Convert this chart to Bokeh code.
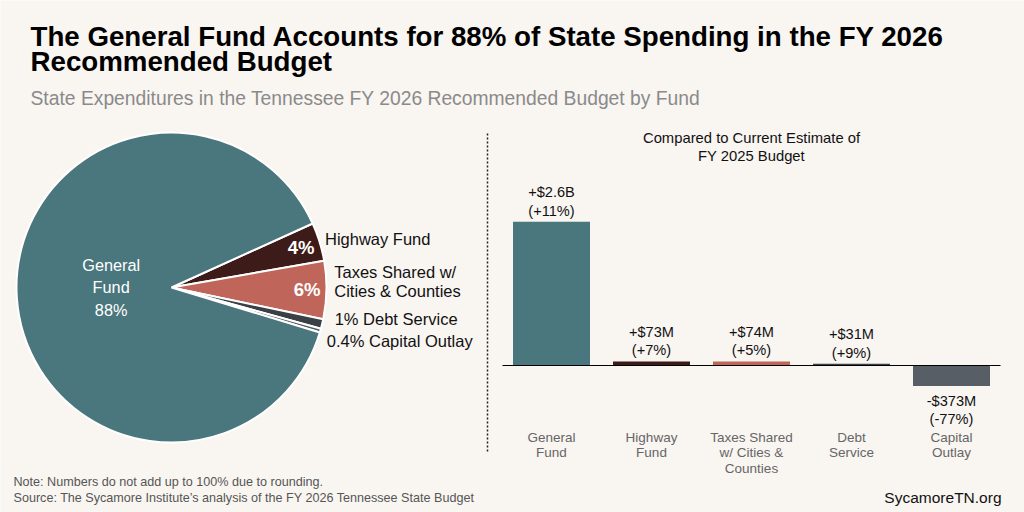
import numpy as np
from bokeh.plotting import figure
from bokeh.models import Range1d, ColumnDataSource
from bokeh.embed import file_html
from bokeh.resources import INLINE
from bokeh.core.properties import value

# ---------------- data ----------------
pie_funds = ["Highway Fund", "Taxes Shared w/ Cities & Counties", "Debt Service",
             "Capital Outlay", "General Fund"]
pie_shares = [4, 6, 1, 0.4, 88]
pie_colors = ["#3d1b19", "#c0655a", "#3a4046", "#575e65", "#4a767d"]
pie_outside_labels = ["Highway Fund", "Taxes Shared w/\nCities & Counties",
                      "1% Debt Service", "0.4% Capital Outlay"]

bar_funds = ["General Fund", "Highway Fund", "Taxes Shared w/ Cities & Counties",
             "Debt Service", "Capital Outlay"]
bar_tick_labels = ["General\nFund", "Highway\nFund", "Taxes Shared\nw/ Cities &\nCounties",
                   "Debt\nService", "Capital\nOutlay"]
bar_change_m = [2600, 73, 74, 31, -373]
bar_change_pct = [11, 7, 5, 9, -77]
bar_change_text = ["+$2.6B", "+$73M", "+$74M", "+$31M", "-$373M"]
bar_colors = ["#4a767d", "#3d1b19", "#c0655a", "#3a4046", "#575e65"]

title_lines = ["The General Fund Accounts for 88% of State Spending in the FY 2026",
               "Recommended Budget"]
subtitle = "State Expenditures in the Tennessee FY 2026 Recommended Budget by Fund"
bar_title = "Compared to Current Estimate of\nFY 2025 Budget"
note_lines = ["Note: Numbers do not add up to 100% due to rounding.",
              "Source: The Sycamore Institute\u2019s analysis of the FY 2026 Tennessee State Budget"]
brand = "SycamoreTN.org"

# ---------------- style / canvas ----------------
BG = "#f9f5f1"
FONT = value("Liberation Sans")
W, H = 1024, 512


def Y(py):
    """convert a top-down pixel row into the canvas' bottom-up coordinate"""
    return H - py


p = figure(width=W, height=H, x_range=Range1d(0, W), y_range=Range1d(0, H), title=None,
           x_axis_location=None, y_axis_location=None, toolbar_location=None,
           output_backend="svg", min_border=0, background_fill_color=BG,
           border_fill_color=BG, outline_line_color=None)
p.grid.visible = False

# ---------------- header ----------------
p.text(x=[30, 30], y=[Y(36), Y(60.5)], text=title_lines, text_font=FONT,
       text_font_size="27.7px", text_font_style="bold", text_color="#000000",
       text_baseline="alphabetic", text_align="left")
p.text(x=[30], y=[Y(97.8)], text=[subtitle], text_font=FONT, text_font_size="19.3px",
       text_color="#8a8a8a", text_baseline="alphabetic", text_align="left")

# ---------------- pie ----------------
R = 155
cx, cy = 171, Y(287)
shares = np.array(pie_shares, dtype=float)
spans = shares / shares.sum() * 2 * np.pi
ends = np.radians(24.4) - np.concatenate([[0.0], np.cumsum(spans)[:-1]])
starts = ends - spans
mids = (starts + ends) / 2
pie_src = ColumnDataSource(dict(fund=pie_funds, start=starts, end=ends, color=pie_colors))
p.wedge(x=cx, y=cy, radius=R, start_angle="start", end_angle="end",
        fill_color="color", line_color="white", line_width=2, source=pie_src)

# inside labels (Highway, Taxes)
in_idx = [0, 1]
p.text(x=[cx + 0.875 * R * np.cos(mids[i]) for i in in_idx],
       y=[cy + 0.875 * R * np.sin(mids[i]) for i in in_idx],
       text=[f"{pie_shares[i]:g}%" for i in in_idx], text_font=FONT,
       text_font_size="18.5px", text_font_style="bold", text_color="white",
       text_align="center", text_baseline="middle")
# General fund label
g = 4
p.text(x=[cx + 0.39 * R * np.cos(mids[g])], y=[cy],
       text=[f"General\nFund\n{pie_shares[g]:g}%"], text_font=FONT,
       text_font_size="16.3px", text_color="white", text_align="center",
       text_baseline="middle", text_line_height=1.27)
# outside labels
nudges = [(-2, 0), (0, 9), (5, 7), (-1, -8)]
p.text(x=[cx + 1.05 * R * np.cos(mids[i]) + nudges[i][0] for i in range(4)],
       y=[cy + 1.05 * R * np.sin(mids[i]) + nudges[i][1] for i in range(4)],
       text=pie_outside_labels, text_font=FONT, text_font_size="16.5px",
       text_color="#111111", text_align="left", text_baseline="middle",
       text_line_height=1.07)
# dotted divider
p.line(x=[487, 487], y=[Y(133), Y(452)], line_color="#222222", line_width=1.5,
       line_dash="2 2")
# notes
p.text(x=[13, 13], y=[Y(481.5), Y(497.5)], text=note_lines, text_font=FONT,
       text_font_size="12.6px", text_color="#555555", text_align="left",
       text_baseline="middle")
p.text(x=[1001], y=[Y(497)], text=[brand], text_font=FONT, text_font_size="15.5px",
       text_color="#111111", text_align="right", text_baseline="middle")

# ---------------- bars ----------------
S = 18.1          # $M per pixel
base_row = 365    # pixel row of the zero line
slot, first_center = 100, 551
p.extra_y_ranges = {"bar": Range1d(-(H - base_row) * S, base_row * S)}
p.extra_x_ranges = {"bar": Range1d(-first_center / slot, (W - first_center) / slot)}
n = len(bar_funds)
idx = list(range(n))
bar_src = ColumnDataSource(dict(
    x=idx, fund=bar_funds, change=bar_change_m, color=bar_colors, tick=bar_tick_labels,
    label=[f"{t}\n({q:+d}%)" for t, q in zip(bar_change_text, bar_change_pct)]))
p.vbar(x="x", top="change", bottom=0, width=0.77, fill_color="color", line_color=None,
       source=bar_src, x_range_name="bar", y_range_name="bar")
p.line(x=[-0.49, n - 0.51], y=[0, 0], line_color="#000000", line_width=1.2,
       x_range_name="bar", y_range_name="bar")

pos = [i for i, v in enumerate(bar_change_m) if v >= 0]
neg = [i for i, v in enumerate(bar_change_m) if v < 0]
lab = bar_src.data["label"]
p.text(x=pos, y=[bar_change_m[i] for i in pos], text=[lab[i] for i in pos],
       text_font=FONT, text_font_size="14.6px", text_color="#111111",
       text_align="center", text_baseline="bottom", y_offset=-3,
       text_line_height=1.15, x_range_name="bar", y_range_name="bar")
p.text(x=neg, y=[bar_change_m[i] for i in neg], text=[lab[i] for i in neg],
       text_font=FONT, text_font_size="14.6px", text_color="#111111",
       text_align="center", text_baseline="top", y_offset=7,
       text_line_height=1.15, x_range_name="bar", y_range_name="bar")
# category labels under the zero line
p.text(x="x", y=0, text="tick", source=bar_src, text_font=FONT,
       text_font_size="13.5px", text_color="#666666", text_align="center",
       text_baseline="top", y_offset=64, text_line_height=1.05,
       x_range_name="bar", y_range_name="bar")
# chart sub-heading
p.text(x=[(n - 1) / 2], y=[0], text=[bar_title], text_font=FONT,
       text_font_size="14.8px", text_color="#111111", text_align="center",
       text_baseline="middle", y_offset=-(base_row - 146.5), text_line_height=1.14,
       x_range_name="bar", y_range_name="bar")

open("out.html", "w").write(file_html(p, INLINE))
